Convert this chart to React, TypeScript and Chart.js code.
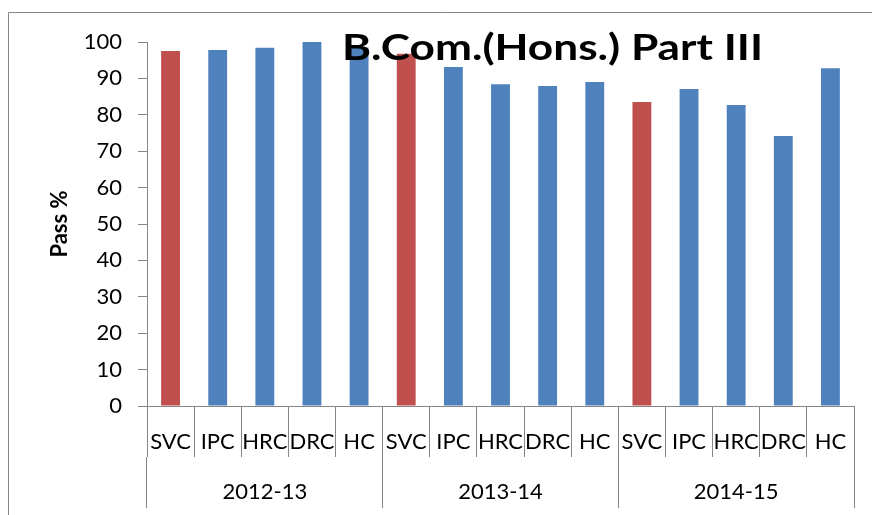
import { useEffect, useRef } from 'react';
import { Chart, registerables } from 'chart.js';

Chart.register(...registerables);

const years = ['2012-13', '2013-14', '2014-15'];
const colleges = ['SVC', 'IPC', 'HRC', 'DRC', 'HC'];
const pass2012_13 = [97.5, 97.8, 98.4, 100, 98.5];
const pass2013_14 = [96.8, 93.1, 88.4, 87.9, 89.0];
const pass2014_15 = [83.5, 87.1, 82.7, 74.2, 92.8];
const highlightCollege = 'SVC';
const yMin = 0;
const yMax = 100;
const yStep = 10;
const chartTitle = 'B.Com.(Hons.) Part III';
const yAxisTitle = 'Pass %';

const RED = '#C0504D';
const BLUE = '#4F81BD';
const AXIS = '#868686';
const FONT = 'Lato';

export default function App() {
  const canvasRef = useRef<HTMLCanvasElement | null>(null);

  useEffect(() => {
    const canvas = canvasRef.current;
    if (!canvas) return;

    const labels: string[] = [];
    years.forEach(() => colleges.forEach((c) => labels.push(c)));
    const values = [...pass2012_13, ...pass2013_14, ...pass2014_15];
    const colors = labels.map((c) => (c === highlightCollege ? RED : BLUE));

    const decor = {
      id: 'decor',
      beforeDraw(chart: any) {
        const ctx = chart.ctx;
        ctx.save();
        ctx.strokeStyle = AXIS;
        ctx.lineWidth = 1;
        ctx.beginPath();
        ctx.moveTo(8.5, 515);
        ctx.lineTo(8.5, 12.5);
        ctx.lineTo(872, 12.5);
        ctx.stroke();
        ctx.restore();
      },
      afterDraw(chart: any) {
        const ctx = chart.ctx;
        ctx.save();
        ctx.fillStyle = '#000000';
        ctx.font = `bold 37px ${FONT}`;
        ctx.textAlign = 'left';
        ctx.textBaseline = 'alphabetic';
        const w = ctx.measureText(chartTitle).width;
        const sx = 421 / w;
        ctx.translate(342, 59.5);
        ctx.scale(sx, 1);
        ctx.fillText(chartTitle, 0, 0);
        ctx.restore();
      },
    };

    const chart = new Chart(canvas, {
      type: 'bar',
      data: {
        labels,
        datasets: [
          {
            data: values,
            backgroundColor: colors,
            borderWidth: 0,
            barPercentage: 0.4,
            categoryPercentage: 1,
          },
        ],
      },
      options: {
        responsive: false,
        animation: false,
        layout: { padding: { left: 47, top: 42, right: 18, bottom: 3 } },
        plugins: {
          legend: { display: false },
          title: { display: false },
          tooltip: { enabled: false },
        },
        scales: {
          x: {
            type: 'category',
            position: 'bottom',
            weight: 0,
            grid: {
              offset: true,
              drawOnChartArea: false,
              drawTicks: true,
              tickLength: 51,
              color: AXIS,
              lineWidth: 1,
            },
            border: { display: true, color: AXIS, width: 1 },
            ticks: {
              color: '#000000',
              font: { family: FONT, size: 22 },
              padding: -28,
              maxRotation: 0,
              autoSkip: false,
            },
            afterFit(scale: any) {
              scale.height = 51;
            },
          },
          x2: {
            type: 'category',
            position: 'bottom',
            weight: 1,
            labels: years,
            offset: true,
            grid: {
              offset: true,
              drawOnChartArea: false,
              drawTicks: true,
              tickLength: 51,
              color: AXIS,
              lineWidth: 1,
            },
            border: { display: false },
            ticks: {
              color: '#000000',
              font: { family: FONT, size: 22 },
              padding: -29,
              maxRotation: 0,
              autoSkip: false,
            },
            afterFit(scale: any) {
              scale.height = 55;
            },
          },
          y: {
            min: yMin,
            max: yMax,
            ticks: {
              stepSize: yStep,
              color: '#000000',
              font: { family: FONT, size: 22 },
              padding: 16,
            },
            grid: {
              drawOnChartArea: false,
              drawTicks: true,
              tickLength: 9,
              color: AXIS,
            },
            border: { display: true, color: AXIS, width: 1 },
            title: {
              display: true,
              text: yAxisTitle,
              color: '#000000',
              font: { family: FONT, size: 22, weight: 'bold' },
              padding: { top: 0, bottom: 0 },
            },
            afterFit(scale: any) {
              scale.width = 100;
            },
          },
        },
      },
      plugins: [decor],
    });

    return () => chart.destroy();
  }, []);

  return (
    <div style={{ position: 'fixed', left: 0, top: 0, width: 872, height: 515, background: '#ffffff' }}>
      <canvas ref={canvasRef} width={872} height={515} style={{ display: 'block' }} />
    </div>
  );
}
